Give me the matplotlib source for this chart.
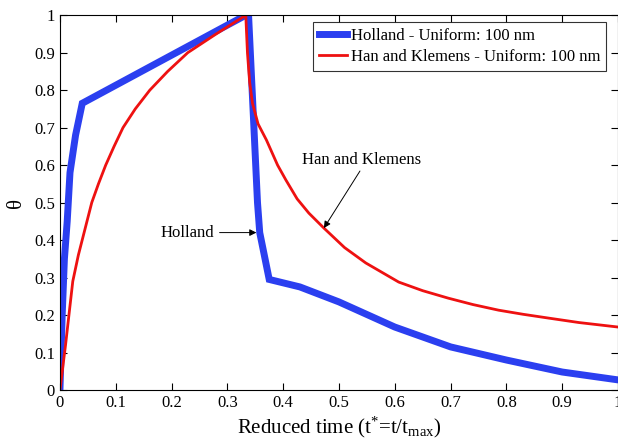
import matplotlib
matplotlib.use("Agg")
import matplotlib.pyplot as plt

holland_t = [0.0, 0.004, 0.008, 0.013, 0.018, 0.028, 0.040, 0.333, 0.338, 0.354, 0.358, 0.375,
             0.43, 0.50, 0.60, 0.70, 0.80, 0.90, 1.0]
holland_theta = [0.0, 0.20, 0.35, 0.45, 0.58, 0.68, 0.765, 1.0, 1.0, 0.50, 0.42, 0.295,
                 0.275, 0.235, 0.168, 0.115, 0.080, 0.048, 0.027]

hk_t = [0.0, 0.010, 0.023, 0.033, 0.045, 0.057, 0.069, 0.082, 0.097, 0.113, 0.135, 0.161,
        0.193, 0.229, 0.280, 0.333,
        0.336, 0.340, 0.345, 0.355, 0.370, 0.390, 0.405, 0.425, 0.446, 0.473, 0.510,
        0.548, 0.607, 0.650, 0.696, 0.740, 0.786, 0.830, 0.875, 0.930, 1.0]
hk_theta = [0.0, 0.12, 0.29, 0.36, 0.43, 0.50, 0.55, 0.60, 0.65, 0.70, 0.75, 0.80,
            0.85, 0.90, 0.95, 1.0,
            0.90, 0.82, 0.765, 0.71, 0.667, 0.60, 0.56, 0.51, 0.472, 0.432, 0.38,
            0.339, 0.288, 0.265, 0.245, 0.228, 0.213, 0.202, 0.192, 0.180, 0.168]

xticks = [0, 0.1, 0.2, 0.3, 0.4, 0.5, 0.6, 0.7, 0.8, 0.9, 1]
xticklabels = ["0", "0.1", "0.2", "0.3", "0.4", "0.5", "0.6", "0.7", "0.8", "0.9", "1"]
yticks = [0, 0.1, 0.2, 0.3, 0.4, 0.5, 0.6, 0.7, 0.8, 0.9, 1]
yticklabels = ["0", "0.1", "0.2", "0.3", "0.4", "0.5", "0.6", "0.7", "0.8", "0.9", "1"]

plt.rcParams['font.family'] = ['Liberation Serif', 'DejaVu Serif']
plt.rcParams['mathtext.fontset'] = 'custom'
plt.rcParams['mathtext.rm'] = 'Liberation Serif'
plt.rcParams['mathtext.it'] = 'Liberation Serif'

fig = plt.figure(figsize=(6.18, 4.47), dpi=100)
ax = fig.add_axes([0.097, 0.1275, 0.903, 0.8385])

ax.plot(holland_t, holland_theta, color='#2b3ff0', lw=5.0, solid_joinstyle='miter',
        label='Holland - Uniform: 100 nm')
ax.plot(hk_t, hk_theta, color='#ee1111', lw=2.0,
        label='Han and Klemens - Uniform: 100 nm')

ax.set_xlim(0, 1)
ax.set_ylim(0, 1)
ax.set_xticks(xticks)
ax.set_xticklabels(xticklabels)
ax.set_yticks(yticks)
ax.set_yticklabels(yticklabels)
ax.tick_params(direction='in', top=True, right=True, labelsize=12, length=5, width=0.8)
for s in ax.spines.values():
    s.set_linewidth(0.8)

ax.set_xlabel(r'Reduced time (t$^{*}$=t/t$_{\mathrm{max}}$)', fontsize=15, labelpad=3)
ax.set_ylabel('θ', fontsize=15, labelpad=6)

leg = ax.legend(loc='upper right', bbox_to_anchor=(0.9785, 0.981), fontsize=12,
                frameon=True, fancybox=False, edgecolor='black',
                handlelength=1.7, handletextpad=0.2,
                borderpad=0.35, labelspacing=0.3, borderaxespad=0.0)
leg.get_frame().set_linewidth(0.8)

ax.annotate('Holland', xy=(0.352, 0.42), xytext=(0.18, 0.42), fontsize=12,
            va='center', ha='left',
            arrowprops=dict(arrowstyle='-|>', color='black', lw=0.7,
                            mutation_scale=10, shrinkA=2, shrinkB=0))
ax.annotate('Han and Klemens', xy=(0.473, 0.432), xytext=(0.434, 0.613), fontsize=12,
            va='center', ha='left',
            arrowprops=dict(arrowstyle='-|>', color='black', lw=0.7,
                            mutation_scale=10, shrinkA=0, shrinkB=0,
                            relpos=(0.5, 0.0)))

fig.savefig('out.png', dpi=100)
